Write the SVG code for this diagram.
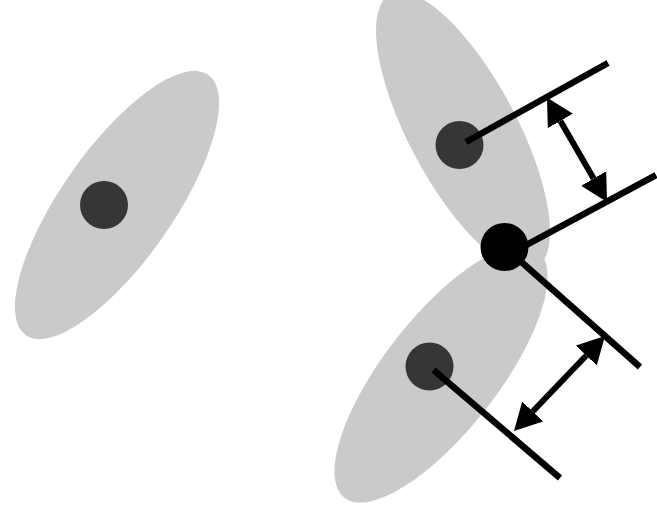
<svg xmlns="http://www.w3.org/2000/svg" width="657" height="516" viewBox="0 0 657 516">
  <style>
    .blob { fill: #cacaca; stroke: none; }
    .dot { fill: #363636; stroke: none; }
    .pt { fill: #000000; stroke: none; }
    .proj { stroke: #000000; stroke-width: 6.5; fill: none; stroke-linecap: butt; }
    .dim { stroke: #000000; stroke-width: 6; fill: none; stroke-linecap: butt; marker-start: url(#ah); marker-end: url(#ah); }
  </style>
  <defs>
    <marker id="ah" markerUnits="userSpaceOnUse" markerWidth="28" markerHeight="30" viewBox="0 -15 28 30" refX="0" refY="0" orient="auto-start-reverse">
      <path d="M0,-14.5 L27,0 L0,14.5 Z" fill="#000000"/>
    </marker>
  </defs>
  <rect width="657" height="516" fill="#ffffff"/>

  <g id="cluster-left">
    <ellipse class="blob" cx="117" cy="205" rx="159" ry="56" transform="rotate(-55 117 205)"/>
    <circle class="dot" cx="104" cy="205" r="24"/>
  </g>
  <g id="cluster-upper">
    <ellipse class="blob" cx="463" cy="131" rx="155" ry="54" transform="rotate(62 463 131)"/>
  </g>
  <g id="cluster-lower">
    <ellipse class="blob" cx="441" cy="374" rx="157" ry="57" transform="rotate(-52 441 374)"/>
  </g>
  <g id="center-upper">
    <circle class="dot" cx="459.5" cy="145" r="24"/>
  </g>
  <g id="center-lower">
    <circle class="dot" cx="429.5" cy="366.5" r="24"/>
  </g>

  <g id="connectors">
    <line class="proj" x1="466" y1="142" x2="608" y2="63"/>
    <line class="proj" x1="505" y1="256.5" x2="656" y2="175"/>
    <line class="proj" x1="504.5" y1="247" x2="640" y2="367"/>
    <line class="proj" x1="433.5" y1="370" x2="560" y2="478"/>
    <line class="dim" x1="560.4" y1="120.9" x2="593.6" y2="178.6"/>
    <line class="dim" x1="586.3" y1="355.5" x2="532.7" y2="411.5"/>
  </g>

  <g id="point">
    <circle class="pt" cx="504.5" cy="247" r="24"/>
  </g>
</svg>
